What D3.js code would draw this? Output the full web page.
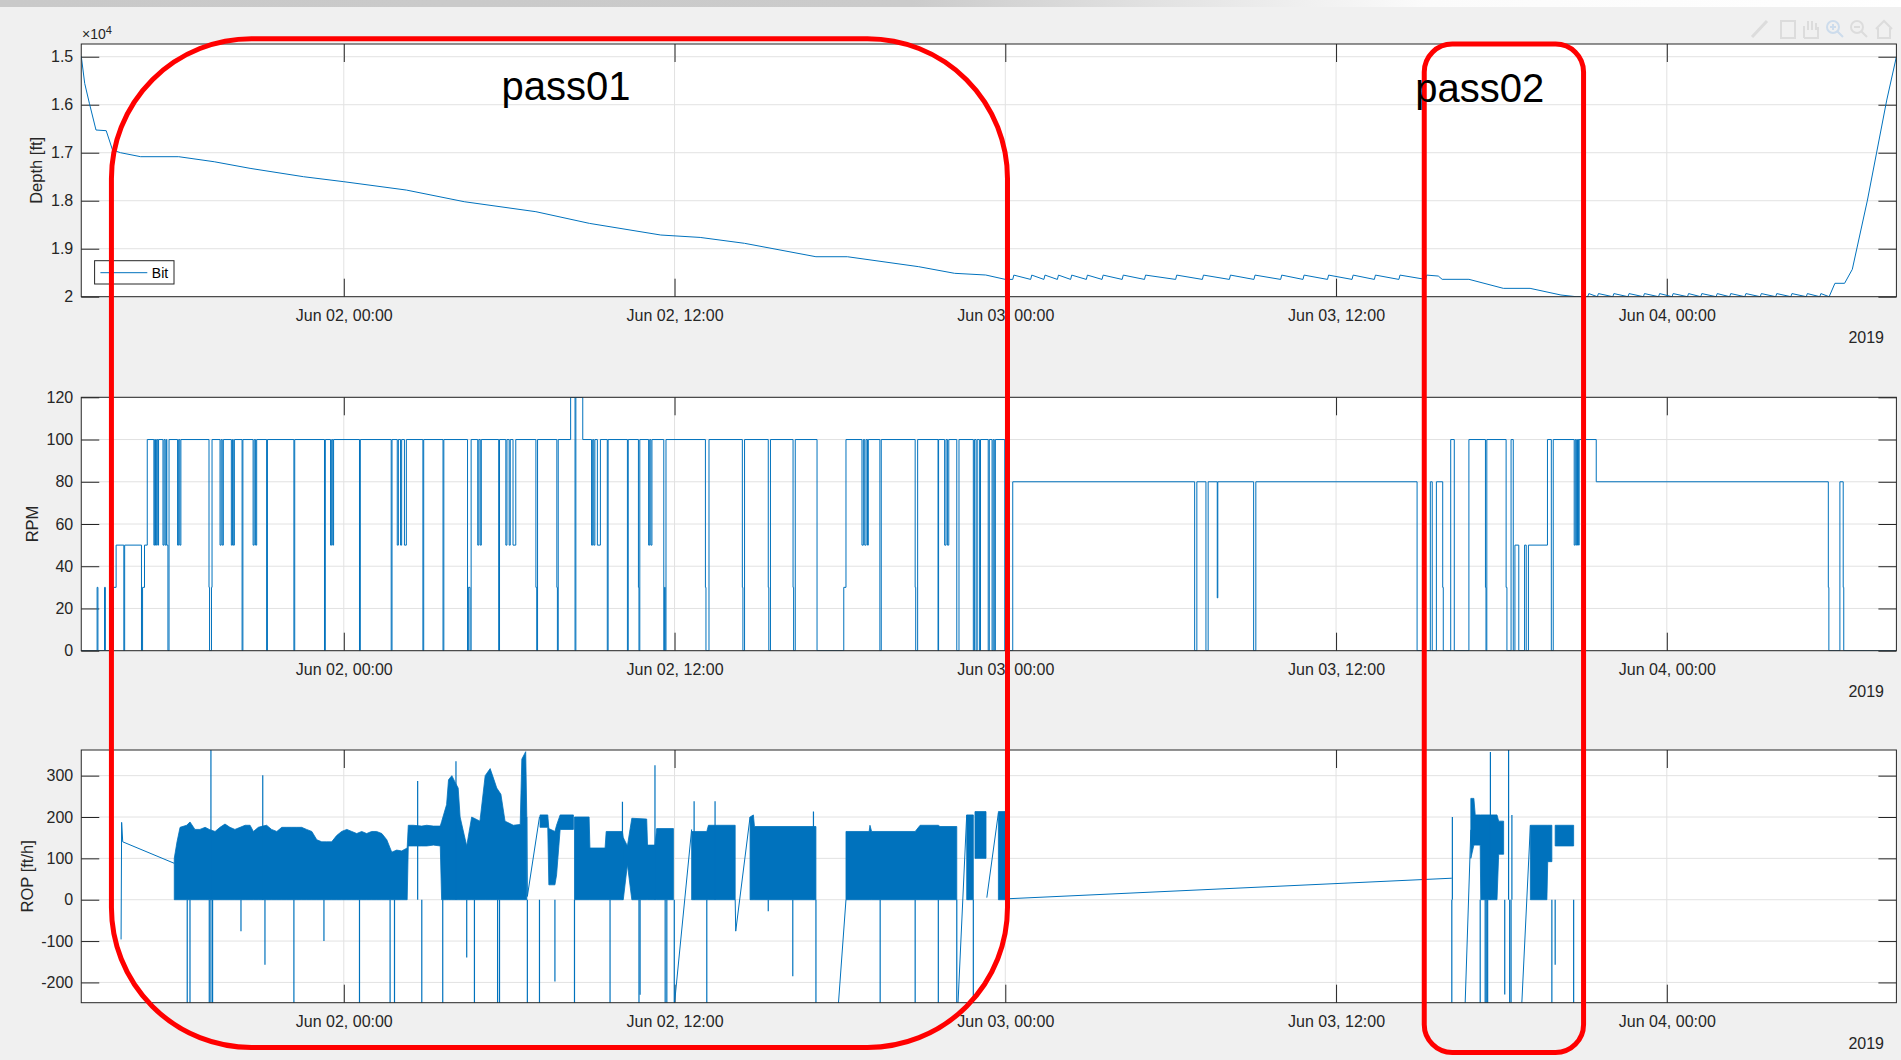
<!DOCTYPE html>
<html>
<head>
<meta charset="utf-8">
<title>Bit depth, RPM and ROP</title>
<script src="https://cdn.jsdelivr.net/npm/d3@7"></script>
<style>
  html, body { margin: 0; padding: 0; background: #f0f0f0; overflow: hidden; }
  svg { display: block; font-family: "Liberation Sans", Arial, Helvetica, sans-serif; }
</style>
</head>
<body>
<svg></svg>
<script>
// all times are hours counted from 2019-06-01 00:00 (UTC)
const t0 = Date.UTC(2019, 5, 1);
const timeRange = [14.475, 80.33];
const timeTicks = [24, 36, 48, 60, 72];

const depthRange = [14735, 20000];
const depthTicks = [15000, 16000, 17000, 18000, 19000, 20000];
const rpmRange = [0, 120];
const rpmTicks = [0, 20, 40, 60, 80, 100, 120];
const ropRange = [-249, 362];
const ropTicks = [-200, -100, 0, 100, 200, 300];

// bit depth [h, ft]
const depth = [
  [14.475, 14990], [14.60, 15555], [14.77, 15970], [15.01, 16527], [15.38, 16541],
  [15.61, 16944], [15.90, 17000], [16.63, 17083], [18.01, 17083], [19.30, 17188],
  [20.60, 17326], [22.54, 17500], [24.00, 17604], [26.27, 17778], [28.37, 18021],
  [30.97, 18229], [32.91, 18472], [35.50, 18715], [36.93, 18765], [38.54, 18888],
  [41.13, 19167], [42.27, 19167], [44.86, 19375], [46.16, 19513], [47.29, 19548],
  [47.99, 19638],
  [48.27, 19640], [48.31, 19550], [48.92, 19640], [48.96, 19550], [49.40, 19640], [49.44, 19550],
  [49.89, 19640], [49.93, 19550], [50.37, 19640], [50.41, 19550], [50.94, 19640], [50.98, 19550],
  [51.51, 19640], [51.55, 19550], [52.24, 19640], [52.28, 19550], [53.05, 19640], [53.09, 19550],
  [54.18, 19640], [54.22, 19550], [55.15, 19640], [55.19, 19550], [56.13, 19640], [56.17, 19550],
  [57.02, 19640], [57.06, 19550], [57.99, 19640], [58.03, 19550], [58.80, 19640], [58.84, 19550],
  [59.69, 19640], [59.73, 19550], [60.58, 19640], [60.62, 19550], [61.39, 19640], [61.43, 19550],
  [62.28, 19640], [62.32, 19550], [63.25, 19640], [63.29, 19550], [63.71, 19570], [63.85, 19638],
  [64.82, 19638], [66.07, 19826], [67.04, 19826], [68.16, 19965], [68.71, 20000],
  [69.13, 20000], [69.17, 19935], [69.48, 20000], [69.52, 19935], [70.04, 20000], [70.08, 19935],
  [70.59, 20000], [70.63, 19935], [71.15, 20000], [71.19, 19935], [71.70, 20000], [71.74, 19935],
  [72.19, 20000], [72.23, 19935], [72.75, 20000], [72.79, 19935], [73.23, 20000], [73.27, 19935],
  [73.79, 20000], [73.83, 19935], [74.28, 20000], [74.32, 19935], [74.83, 20000], [74.87, 19935],
  [75.39, 20000], [75.43, 19935], [75.95, 20000], [75.99, 19935], [76.50, 20000], [76.54, 19935],
  [77.06, 20000], [77.10, 19935], [77.55, 20000], [77.59, 19935], [77.89, 20000],
  [78.10, 19721], [78.45, 19721], [78.73, 19430], [79.28, 17986], [79.98, 15903], [80.33, 15000]
];

// rotary speed, value holds until the next point [h, rpm]
const rpm = [
  [14.475, 0], [15.05, 30], [15.08, 0], [15.32, 30], [15.35, 0], [15.64, 30], [15.74, 50],
  [16.02, 0], [16.05, 50], [16.66, 0], [16.70, 30], [16.77, 50], [16.87, 100],
  [17.11, 50], [17.14, 100], [17.17, 50], [17.21, 100], [17.25, 50], [17.28, 100],
  [17.44, 50], [17.48, 100], [17.52, 50], [17.56, 100], [17.58, 50], [17.62, 0], [17.66, 100],
  [17.97, 50], [18.01, 100], [18.05, 50], [18.09, 100],
  [19.11, 30], [19.13, 0], [19.20, 30], [19.22, 100],
  [19.51, 50], [19.55, 100], [19.59, 50], [19.63, 100],
  [19.92, 50], [19.96, 100], [19.99, 50], [20.03, 100],
  [20.31, 0], [20.34, 100],
  [20.71, 50], [20.75, 100], [20.80, 50], [20.84, 100],
  [21.20, 0], [21.23, 100], [22.19, 0], [22.22, 100], [23.30, 0], [23.33, 100],
  [23.52, 50], [23.56, 100], [23.60, 50], [23.63, 100],
  [24.57, 0], [24.60, 100], [25.72, 0], [25.75, 100],
  [25.94, 50], [25.98, 100], [26.06, 50], [26.10, 100], [26.20, 50], [26.27, 100],
  [26.87, 0], [26.90, 100], [27.60, 0], [27.63, 100],
  [28.49, 0], [28.52, 30], [28.58, 0], [28.62, 100],
  [28.86, 50], [28.90, 100], [28.95, 50], [28.99, 100],
  [29.62, 0], [29.65, 100],
  [29.88, 50], [29.92, 100], [30.00, 50], [30.04, 100], [30.14, 50], [30.24, 100],
  [30.97, 30], [31.00, 0], [31.03, 100], [31.73, 30], [31.75, 0], [31.78, 100],
  [32.23, 120], [32.39, 0], [32.42, 120], [32.67, 100],
  [32.99, 50], [33.03, 100], [33.07, 50], [33.11, 100], [33.20, 50], [33.31, 100],
  [33.56, 0], [33.59, 100], [34.29, 0], [34.32, 100], [34.69, 30], [34.71, 0], [34.74, 100],
  [35.06, 50], [35.10, 100], [35.14, 50], [35.18, 100],
  [35.61, 0], [35.64, 30], [35.66, 0], [35.69, 100],
  [37.12, 30], [37.14, 0], [37.25, 100], [38.46, 30], [38.48, 0], [38.54, 100],
  [39.40, 30], [39.42, 0], [39.48, 100], [40.30, 30], [40.32, 0], [40.38, 100],
  [41.17, 0], [42.14, 30], [42.22, 100],
  [42.80, 50], [42.85, 100], [42.90, 50], [42.95, 100], [43.00, 50], [43.03, 100],
  [43.45, 0], [43.50, 100], [44.73, 30], [44.75, 0], [44.82, 100], [45.56, 0], [45.58, 100],
  [45.80, 50], [45.85, 100], [45.90, 50], [45.95, 100],
  [46.24, 0], [46.32, 100], [46.84, 0], [46.88, 100], [46.94, 0], [46.98, 100], [47.06, 0], [47.10, 100],
  [47.38, 0], [47.42, 100], [47.52, 0], [47.56, 100], [47.60, 0], [47.64, 100],
  [47.98, 0], [48.27, 80],
  [54.87, 0], [54.95, 80], [55.28, 0], [55.36, 80], [55.69, 25], [55.71, 80], [57.01, 0], [57.09, 80],
  [62.94, 0], [63.42, 80], [63.49, 0], [63.64, 80], [63.87, 30], [63.89, 0], [64.16, 100], [64.29, 0],
  [64.82, 100], [65.42, 30], [65.44, 0], [65.47, 100], [66.17, 30], [66.20, 0], [66.35, 100],
  [66.43, 0], [66.49, 50], [66.63, 0], [66.84, 50], [66.90, 0], [66.98, 50], [67.67, 100],
  [67.81, 0], [67.88, 100],
  [68.64, 50], [68.68, 100], [68.72, 50], [68.76, 100], [68.80, 50], [68.82, 100],
  [69.44, 80], [77.86, 30], [77.88, 0], [78.28, 80], [78.40, 30], [78.42, 0], [80.33, 0]
];

// rate of penetration: dense stretches as [h, low, high]
const ropBands = [
  [[17.85, 0, 100], [17.95, 0, 140], [18.06, 0, 175], [18.30, 0, 180], [18.42, 0, 188],
   [18.60, 0, 170], [18.78, 0, 170], [18.97, 0, 175], [19.12, 0, 170], [19.33, 0, 165],
   [19.51, 0, 175], [19.69, 0, 183], [19.87, 0, 175], [20.05, 0, 170], [20.24, 0, 175],
   [20.42, 0, 180], [20.60, 0, 180], [20.72, 0, 165], [20.90, 0, 175], [21.06, 0, 178],
   [21.20, 0, 180], [21.38, 0, 170], [21.57, 0, 165], [21.75, 0, 175], [21.93, 0, 175],
   [22.11, 0, 175], [22.29, 0, 175], [22.47, 0, 175], [22.65, 0, 170], [22.84, 0, 165],
   [23.02, 0, 145], [23.20, 0, 140], [23.38, 0, 140], [23.56, 0, 140], [23.74, 0, 155],
   [23.92, 0, 165], [24.11, 0, 170], [24.29, 0, 165], [24.47, 0, 160], [24.65, 0, 165],
   [24.83, 0, 160], [25.01, 0, 165], [25.19, 0, 165], [25.38, 0, 160], [25.56, 0, 145],
   [25.74, 0, 115], [25.92, 0, 120], [26.10, 0, 118], [26.30, 0, 125], [26.34, 130, 180],
   [26.52, 130, 180], [26.83, 130, 178], [27.01, 130, 180], [27.25, 132, 178], [27.50, 130, 178],
   [27.55, 0, 189], [27.73, 0, 230], [27.80, 0, 290], [27.92, 0, 300], [28.07, 0, 280],
   [28.15, 0, 270], [28.22, 0, 200], [28.46, 0, 130], [28.64, 0, 200], [28.94, 0, 190],
   [29.13, 0, 300], [29.31, 0, 317], [29.45, 0, 290], [29.55, 0, 270], [29.70, 0, 255],
   [29.85, 0, 190], [30.15, 0, 180], [30.40, 0, 182], [30.46, 0, 340], [30.60, 0, 358], [30.64, 0, 200]],
  [[31.12, 175, 205], [31.40, 175, 205], [31.44, 36, 172], [31.66, 36, 165], [31.72, 60, 180],
   [31.85, 170, 205], [32.33, 170, 205]],
  [[32.37, 0, 200], [32.90, 0, 200], [32.93, 0, 125], [33.48, 0, 125], [33.52, 0, 165],
   [34.11, 0, 165], [34.14, 0, 150], [34.29, 85, 130], [34.45, 0, 197], [34.99, 0, 195],
   [35.02, 0, 132], [35.29, 0, 132], [35.35, 0, 172], [35.96, 0, 172]],
  [[36.62, 0, 165], [37.17, 0, 165], [37.23, 0, 180], [38.20, 0, 180]],
  [[38.74, 0, 200], [38.86, 0, 205], [38.90, 0, 177], [41.13, 0, 177]],
  [[42.22, 0, 165], [43.06, 0, 165], [43.09, 0, 180], [43.15, 0, 165], [44.73, 0, 165],
   [44.91, 0, 180], [45.57, 0, 180], [45.63, 0, 177], [46.24, 0, 177]],
  [[46.60, 0, 205], [46.84, 0, 205]],
  [[46.90, 100, 213], [47.30, 100, 213]],
  [[47.75, 0, 213], [47.99, 0, 213]],
  [[64.89, 100, 245], [65.00, 132, 245], [65.05, 132, 205], [65.23, 132, 205], [65.25, 0, 205],
   [65.84, 0, 205], [65.90, 110, 190], [66.08, 110, 190]],
  [[67.05, 0, 180], [67.65, 0, 180], [67.68, 92, 180], [67.83, 92, 180]],
  [[67.95, 130, 180], [68.62, 130, 180]]
];

// sparse joins between the dense stretches [h, ft/h]
const ropLines = [
  [[15.92, -96], [15.94, 187], [15.98, 140], [17.85, 88]],
  [[30.64, 200], [30.66, 8], [31.10, 200], [31.12, 200]],
  [[34.14, 150], [34.29, 85]],
  [[36.00, -250], [36.62, 170]],
  [[38.20, 0], [38.22, -76], [38.74, 200]],
  [[41.13, -1000], [42.22, 0]],
  [[46.25, -300], [46.60, 205]],
  [[47.33, 5], [47.75, 210]],
  [[47.99, 2], [64.20, 52]],
  [[64.66, -300], [64.89, 169]],
  [[66.74, -250], [67.05, 180]]
];

// single samples that stick out of the band [h, ft/h]
const ropSpikes = [
  [18.32, -300], [18.42, -300], [19.12, -300], [19.18, -300], [19.18, 400], [19.24, -300],
  [20.27, -76], [21.06, 301], [21.14, -157], [22.19, -300], [23.28, -100], [24.57, -300],
  [25.68, -300], [25.84, -300], [26.68, 287], [26.83, -300], [27.59, -300], [28.07, 335],
  [28.46, -140], [28.74, -300], [29.58, -300], [29.65, -300], [30.66, -300], [31.10, -300],
  [31.66, -198], [32.37, -300], [33.66, -300], [34.11, 237], [34.71, -300], [34.75, -230],
  [35.29, 325], [35.66, -300], [35.72, -300], [35.99, -300], [36.71, 238], [37.17, -300],
  [37.47, 238], [39.40, -28], [40.29, -185], [41.04, 213], [41.13, -300], [43.46, -300],
  [44.73, -300], [45.57, -300], [46.24, -300], [46.66, 205], [46.84, -300],
  [64.20, -300], [64.22, 200], [65.23, -300], [65.41, -300], [65.45, -300], [65.50, -300],
  [65.60, 357], [66.12, -229], [66.26, 400], [66.30, -300], [66.35, -300], [66.38, 205],
  [67.83, -300], [67.95, -157], [68.62, -300]
];

// hand drawn marks over the screenshot
const passNames = ['pass01', 'pass02'];
const passStart = [15.57, 63.20];
const passEnd = [48.08, 68.98];
const passLabelAt = [32.06, 65.21];

// state object
const s = {
  width: 1901,
  height: 1060,
  left: 81.25,
  right: 1896.4,
  panels: [[44, 296.7], [397.3, 650.7], [750, 1002.7]],
  ink: '#262626',
  grid: '#e2e2e2',
  blue: '#0072BD',
  tick: 18,
};

const toDate = h => new Date(t0 + h * 3600e3);

window.onload = () => {

  const svg = d3.select('svg')
      .attr('width', s.width)
      .attr('height', s.height);

  const defs = svg.append('defs');

  const strip = defs.append('linearGradient').attr('id', 'strip');
  strip.append('stop').attr('offset', '0%').attr('stop-color', '#c9c9c9');
  strip.append('stop').attr('offset', '48%').attr('stop-color', '#cbcbcb');
  strip.append('stop').attr('offset', '75%').attr('stop-color', '#fbfbfb');
  strip.append('stop').attr('offset', '100%').attr('stop-color', '#ffffff');

  svg.append('rect')
      .attr('width', s.width)
      .attr('height', s.height)
      .attr('fill', '#f0f0f0');
  svg.append('rect')
      .attr('width', s.width)
      .attr('height', 7)
      .attr('fill', 'url(#strip)');

  // faint figure toolbar
  const tb = svg.append('g')
      .attr('fill', 'none')
      .attr('stroke', '#dcdcdc')
      .attr('stroke-width', 2);
  tb.append('line').attr('x1', 1752).attr('y1', 37).attr('x2', 1767).attr('y2', 21).attr('stroke-width', 3);
  tb.append('rect').attr('x', 1781).attr('y', 21).attr('width', 14).attr('height', 17);
  tb.append('path').attr('d', 'M1804,38 L1804,26 M1808,30 L1808,21 M1812,30 L1812,21 M1816,30 L1816,23 M1804,38 L1818,38 L1818,27');
  tb.append('circle').attr('cx', 1833).attr('cy', 27).attr('r', 6).attr('stroke', '#cddcec');
  tb.append('path').attr('d', 'M1837,31 L1843,37 M1830,27 L1836,27 M1833,24 L1833,30').attr('stroke', '#cddcec');
  tb.append('circle').attr('cx', 1857).attr('cy', 27).attr('r', 6);
  tb.append('path').attr('d', 'M1861,31 L1867,37 M1854,27 L1860,27');
  tb.append('path').attr('d', 'M1876,29 L1884,21 L1892,29 M1878,28 L1878,38 L1890,38 L1890,28');

  const x = d3.scaleUtc()
      .domain(timeRange.map(toDate))
      .range([s.left, s.right]);

  const yDepth = d3.scaleLinear().domain(depthRange).range([s.panels[0][0], s.panels[0][1]]);
  const yRpm = d3.scaleLinear().domain(rpmRange).range([s.panels[1][1], s.panels[1][0]]);
  const yRop = d3.scaleLinear().domain(ropRange).range([s.panels[2][1], s.panels[2][0]]);

  function styleAxis(a) {
    a.select('.domain').remove();
    a.attr('font-family', null)
        .attr('font-size', 16);
    a.selectAll('line').attr('stroke', s.ink);
    a.selectAll('text').attr('fill', s.ink);
  }

  function drawPanel(i, y, ticks, fmt, label, labelX) {
    const [top, bottom] = s.panels[i];
    const g = svg.append('g');

    g.append('rect')
        .attr('x', s.left)
        .attr('y', top)
        .attr('width', s.right - s.left)
        .attr('height', bottom - top)
        .attr('fill', '#fff');

    g.selectAll('line.gx')
      .data(timeTicks)
      .join('line')
        .attr('class', 'gx')
        .attr('x1', d => x(toDate(d)))
        .attr('x2', d => x(toDate(d)))
        .attr('y1', top)
        .attr('y2', bottom)
        .attr('stroke', s.grid);

    g.selectAll('line.gy')
      .data(ticks)
      .join('line')
        .attr('class', 'gy')
        .attr('x1', s.left)
        .attr('x2', s.right)
        .attr('y1', d => y(d))
        .attr('y2', d => y(d))
        .attr('stroke', s.grid);

    g.append('g')
        .attr('transform', `translate(0,${bottom})`)
        .call(d3.axisBottom(x)
          .tickValues(timeTicks.map(toDate))
          .tickFormat(d3.utcFormat('%b %d, %H:%M'))
          .tickSizeInner(-s.tick)
          .tickSizeOuter(0)
          .tickPadding(12.5))
        .call(styleAxis);

    g.append('g')
        .attr('transform', `translate(0,${top})`)
        .call(d3.axisTop(x)
          .tickValues(timeTicks.map(toDate))
          .tickFormat('')
          .tickSizeInner(-s.tick)
          .tickSizeOuter(0))
        .call(styleAxis);

    g.append('g')
        .attr('transform', `translate(${s.left},0)`)
        .call(d3.axisLeft(y)
          .tickValues(ticks)
          .tickFormat(fmt)
          .tickSizeInner(-s.tick)
          .tickSizeOuter(0)
          .tickPadding(8))
        .call(styleAxis);

    g.append('g')
        .attr('transform', `translate(${s.right},0)`)
        .call(d3.axisRight(y)
          .tickValues(ticks)
          .tickFormat('')
          .tickSizeInner(-s.tick)
          .tickSizeOuter(0))
        .call(styleAxis);

    defs.append('clipPath')
        .attr('id', 'clip' + i)
      .append('rect')
        .attr('x', s.left)
        .attr('y', top)
        .attr('width', s.right - s.left)
        .attr('height', bottom - top);

    const plot = g.append('g')
        .attr('clip-path', `url(#clip${i})`);

    g.append('rect')
        .attr('x', s.left)
        .attr('y', top)
        .attr('width', s.right - s.left)
        .attr('height', bottom - top)
        .attr('fill', 'none')
        .attr('stroke', s.ink)
        .attr('stroke-width', 1);

    g.append('text')
        .attr('transform', `translate(${labelX},${(top + bottom) / 2}) rotate(-90)`)
        .attr('text-anchor', 'middle')
        .attr('font-size', 16.5)
        .attr('fill', s.ink)
        .text(label);

    g.append('text')
        .attr('x', 1884)
        .attr('y', bottom + 46.5)
        .attr('text-anchor', 'end')
        .attr('font-size', 16)
        .attr('fill', s.ink)
        .text('2019');

    return plot;
  }

  const p0 = drawPanel(0, yDepth, depthTicks, d => String(d / 1e4), 'Depth [ft]', 41.5);
  const p1 = drawPanel(1, yRpm, rpmTicks, d => String(d), 'RPM', 38);
  const p2 = drawPanel(2, yRop, ropTicks, d => String(d), 'ROP [ft/h]', 32.5);

  // depth
  p0.append('path')
      .datum(depth)
      .attr('d', d3.line()
        .x(d => x(toDate(d[0])))
        .y(d => yDepth(d[1])))
      .attr('fill', 'none')
      .attr('stroke', s.blue)
      .attr('stroke-width', 1);

  // rpm
  p1.append('path')
      .datum(rpm)
      .attr('d', d3.line()
        .curve(d3.curveStepAfter)
        .x(d => x(toDate(d[0])))
        .y(d => yRpm(d[1])))
      .attr('fill', 'none')
      .attr('stroke', s.blue)
      .attr('stroke-width', 1);

  // rop
  p2.selectAll('path.band')
    .data(ropBands)
    .join('path')
      .attr('class', 'band')
      .attr('d', d3.area()
        .x(d => x(toDate(d[0])))
        .y0(d => yRop(d[1]))
        .y1(d => yRop(d[2])))
      .attr('fill', s.blue)
      .attr('stroke', s.blue)
      .attr('stroke-width', 0.8);

  p2.selectAll('path.join')
    .data(ropLines)
    .join('path')
      .attr('class', 'join')
      .attr('d', d3.line()
        .x(d => x(toDate(d[0])))
        .y(d => yRop(d[1])))
      .attr('fill', 'none')
      .attr('stroke', s.blue)
      .attr('stroke-width', 1);

  p2.selectAll('line.spike')
    .data(ropSpikes)
    .join('line')
      .attr('class', 'spike')
      .attr('x1', d => x(toDate(d[0])))
      .attr('x2', d => x(toDate(d[0])))
      .attr('y1', yRop(0))
      .attr('y2', d => yRop(d[1]))
      .attr('stroke', s.blue)
      .attr('stroke-width', 1.2);

  // x10^4 exponent of the depth axis
  const ex = svg.append('text')
      .attr('x', 82)
      .attr('y', 39.3)
      .attr('font-size', 14)
      .attr('fill', s.ink)
      .text('\u00d710');
  ex.append('tspan')
      .attr('font-size', 11)
      .attr('dy', -5)
      .text('4');

  // legend
  const lg = svg.append('g');
  lg.append('rect')
      .attr('x', 94.6)
      .attr('y', 260.7)
      .attr('width', 79.4)
      .attr('height', 23.3)
      .attr('fill', '#fff')
      .attr('stroke', s.ink)
      .attr('stroke-width', 1);
  lg.append('line')
      .attr('x1', 100.4)
      .attr('x2', 147.3)
      .attr('y1', 272.7)
      .attr('y2', 272.7)
      .attr('stroke', s.blue)
      .attr('stroke-width', 1);
  lg.append('text')
      .attr('x', 151.8)
      .attr('y', 277.8)
      .attr('font-size', 14)
      .attr('fill', '#000')
      .text('Bit');

  // pass boxes
  const boxTop = [38.7, 44];
  const boxBottom = [1047.5, 1052.5];
  const boxRadius = [140, 28];
  const labelBase = [100, 101.7];

  svg.selectAll('rect.pass')
    .data(passNames)
    .join('rect')
      .attr('class', 'pass')
      .attr('x', (d, i) => x(toDate(passStart[i])))
      .attr('y', (d, i) => boxTop[i])
      .attr('width', (d, i) => x(toDate(passEnd[i])) - x(toDate(passStart[i])))
      .attr('height', (d, i) => boxBottom[i] - boxTop[i])
      .attr('rx', (d, i) => boxRadius[i])
      .attr('fill', 'none')
      .attr('stroke', '#ff0000')
      .attr('stroke-width', 5);

  svg.selectAll('text.pass')
    .data(passNames)
    .join('text')
      .attr('class', 'pass')
      .attr('x', (d, i) => x(toDate(passLabelAt[i])))
      .attr('y', (d, i) => labelBase[i])
      .attr('text-anchor', 'middle')
      .attr('font-size', 40)
      .attr('fill', '#000')
      .text(d => d);

};
</script>
</body>
</html>
